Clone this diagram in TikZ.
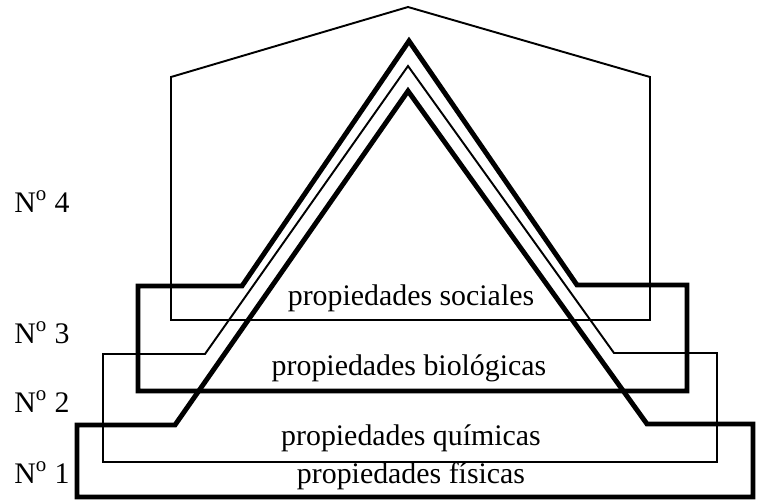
\documentclass[tikz,border=0pt]{standalone}
\usepackage{fontspec}
\setmainfont{Liberation Serif}
\tikzset{
  heavy/.style={line width=2.8pt, line join=miter},
  light/.style={line width=1.1pt, line join=miter},
  lbl/.style={font=\fontsize{17}{20}\selectfont, inner sep=0pt, anchor=base},
  lvl/.style={font=\fontsize{17}{20}\selectfont, inner sep=0pt, anchor=base west}
}

\begin{document}
\begin{tikzpicture}[x=0.02cm, y=-0.02cm]
		%%%%% START %%%%%
		\useasboundingbox (0, 0) rectangle (768, 501);
		
		% level 4
		\draw[light] (171, 320) -- (650, 320) -- (650, 77) -- (408, 7) -- (171, 77) -- cycle;
		
		% level 3
		\draw[heavy] (138, 286) -- (138, 391) -- (687, 391) -- (687, 285) -- (577, 285) -- (409, 41) -- (242, 286) -- cycle;
		
		% level 2
		\draw[light] (103, 354) -- (103, 462) -- (717, 462) -- (717, 353) -- (614, 353) -- (408, 66) -- (205, 354) -- cycle;
		
		% level 1
		\draw[heavy] (77, 425) -- (77, 497) -- (753, 497) -- (753, 424) -- (647, 424) -- (408, 91) -- (175, 425) -- cycle;
		
		\node[lbl] (sociales) at (411, 305) {propiedades sociales};
		\node[lbl] (biologicas) at (409, 375) {propiedades biológicas};
		\node[lbl] (quimicas) at (411, 445) {propiedades químicas};
		\node[lbl] (fisicas) at (411, 483) {propiedades físicas};
		
		\node[lvl] (n4) at (14, 212) {N\textsuperscript{o} 4};
		\node[lvl] (n3) at (14, 343) {N\textsuperscript{o} 3};
		\node[lvl] (n2) at (14, 412) {N\textsuperscript{o} 2};
		\node[lvl] (n1) at (14, 483) {N\textsuperscript{o} 1};
		
		%%%%% END %%%%%
\end{tikzpicture}
\end{document}
